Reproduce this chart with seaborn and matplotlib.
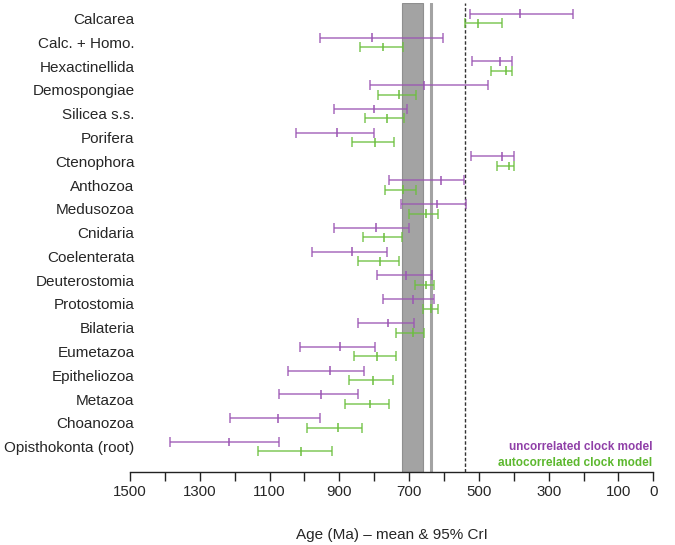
import numpy as np
import pandas as pd
import seaborn as sns
import matplotlib.pyplot as plt

clades = ["Calcarea", "Calc. + Homo.", "Hexactinellida", "Demospongiae", "Silicea s.s.",
          "Porifera", "Ctenophora", "Anthozoa", "Medusozoa", "Cnidaria", "Coelenterata",
          "Deuterostomia", "Protostomia", "Bilateria", "Eumetazoa", "Epitheliozoa",
          "Metazoa", "Choanozoa", "Opisthokonta (root)"]

# uncorrelated clock model: mean, older bound, younger bound (Ma)
unc_mean = [382, 805, 440, 657, 802, 906, 434, 609, 620, 796, 863, 708, 690, 760, 898, 927, 953, 1076, 1217]
unc_old = [525, 954, 520, 811, 915, 1023, 522, 757, 724, 914, 979, 791, 774, 846, 1012, 1046, 1074, 1214, 1384]
unc_young = [230, 602, 405, 473, 706, 801, 399, 543, 538, 699, 763, 635, 630, 687, 798, 829, 846, 954, 1074]

# autocorrelated clock model
auto_mean = [503, 775, 422, 730, 763, 797, 414, 717, 652, 771, 783, 651, 637, 690, 792, 803, 813, 904, 1009]
auto_old = [539, 842, 464, 788, 825, 864, 449, 769, 700, 832, 847, 682, 661, 738, 859, 873, 884, 992, 1132]
auto_young = [434, 718, 404, 681, 715, 742, 399, 679, 618, 720, 730, 630, 618, 657, 737, 745, 758, 836, 920]

glaciation = (719, 659)
marinoan = 638
cambrian = 541

purple = "#9b55b3"
green = "#6cbf3e"

rows = []
for i, c in enumerate(clades):
    rows.append({"clade": c, "pos": i - 0.2, "model": "uncorrelated", "mean": unc_mean[i],
                 "old": unc_old[i], "young": unc_young[i]})
    rows.append({"clade": c, "pos": i + 0.2, "model": "autocorrelated", "mean": auto_mean[i],
                 "old": auto_old[i], "young": auto_young[i]})
df = pd.DataFrame(rows)

sns.set_theme(style="white")
plt.rcParams['font.family'] = ['Liberation Sans', 'DejaVu Sans']

fig = plt.figure(figsize=(6.75, 5.45), dpi=100)
ax = fig.add_axes([130 / 675, 73.3 / 545, 523.3 / 675, 468.9 / 545])

# reference periods
ax.axvspan(glaciation[0], glaciation[1], color="#a3a3a3", ec="#8f8f8f", lw=0.8, zorder=1)
ax.axvline(marinoan, color="#a3a3a3", lw=2.2, zorder=1)
ax.axvline(cambrian, color="#333333", lw=1.0, ls=(0, (2.5, 1.5)), zorder=1)

pal = {"uncorrelated": purple, "autocorrelated": green}
for model, sub in df.groupby("model"):
    xerr = np.vstack([sub["mean"] - sub["young"], sub["old"] - sub["mean"]])
    ax.errorbar(sub["mean"], sub["pos"], xerr=xerr, fmt="none", ecolor=pal[model],
                elinewidth=1.1, capsize=3.4, capthick=1.1, alpha=0.85, zorder=3)

sns.scatterplot(data=df, x="mean", y="pos", hue="model", palette=pal, marker="|",
                s=40, linewidth=1.1, legend=False, ax=ax, zorder=4)

ax.set_xlim(1500, 0)
ax.set_ylim(19.05, -0.66)
ticks = list(range(1500, -1, -100))
ax.set_xticks(ticks)
ax.set_xticklabels([str(v) if v % 200 == 100 or v in (1500, 0) else "" for v in ticks],
                   fontsize=10.8)
ax.set_yticks(range(len(clades)))
ax.set_yticklabels(clades, fontsize=11)
ax.tick_params(axis="y", left=False, length=0, pad=-3.2)
ax.tick_params(axis="x", bottom=True, direction="out", length=6.5, width=1,
               color="#222222", pad=3)
ax.set_xlabel("Age (Ma) \u2013 mean & 95% CrI", fontsize=11, labelpad=21)
ax.set_ylabel("")

for s in ["top", "right", "left"]:
    ax.spines[s].set_visible(False)
ax.spines["bottom"].set_color("#222222")
ax.spines["bottom"].set_linewidth(1)

ax.text(2, 18.0, "uncorrelated clock model", color="#9040a8", fontsize=8.5,
        fontweight="bold", ha="right", va="center")
ax.text(2, 18.67, "autocorrelated clock model", color="#5cb82e", fontsize=8.5,
        fontweight="bold", ha="right", va="center")

fig.savefig("out.png", dpi=100)
